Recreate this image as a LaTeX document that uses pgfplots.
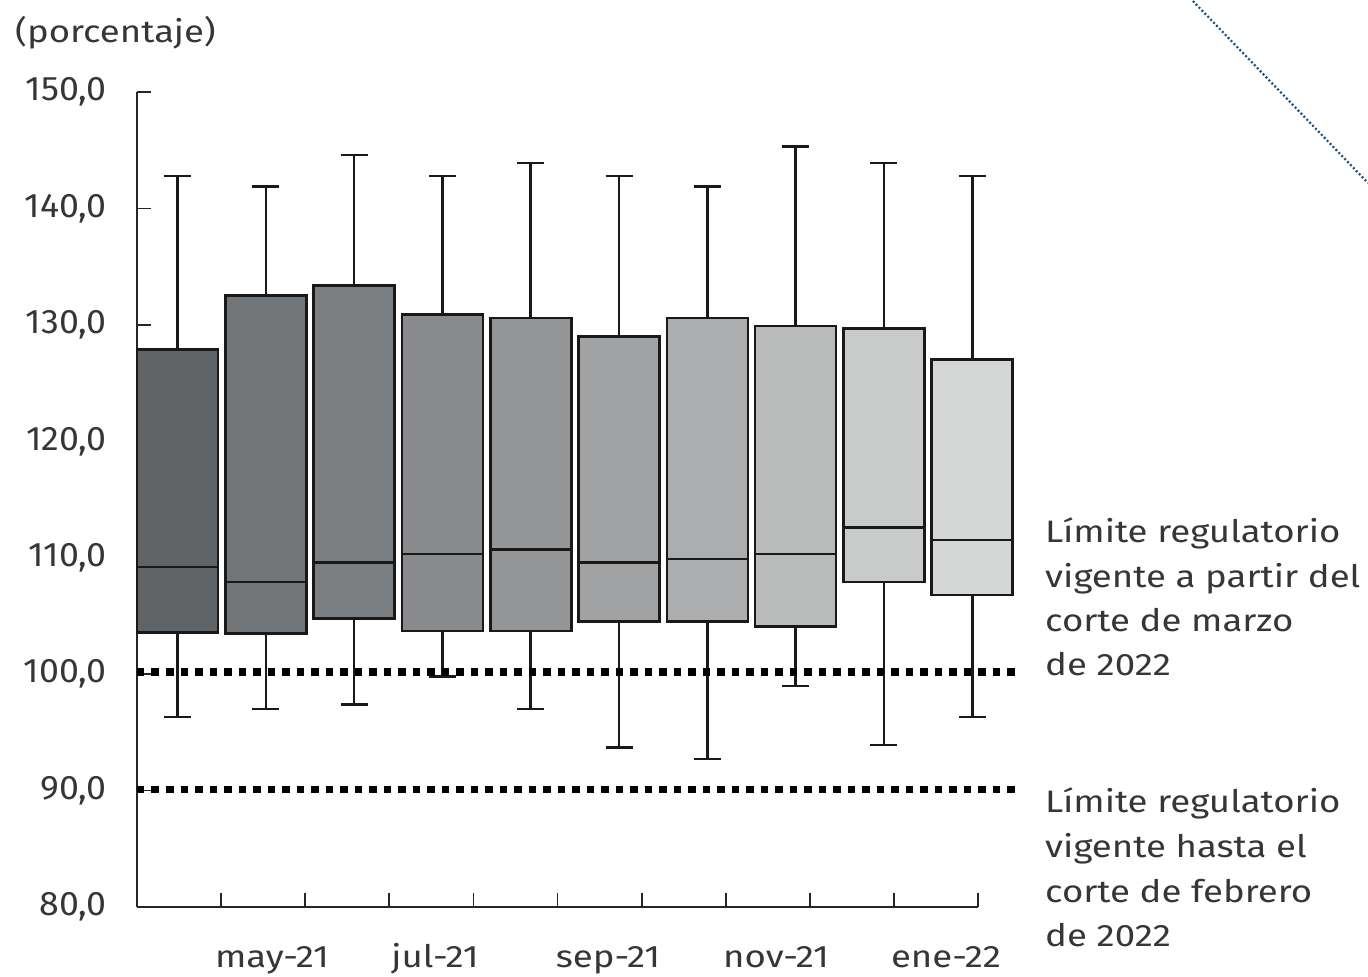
\documentclass[border=0pt]{standalone}
\usepackage{fontspec}
\setmainfont{Fira Sans}
\newfontfamily\widefont[FakeStretch=1.18]{Fira Sans}
\newfontfamily\tickfont[FakeStretch=1.05]{Fira Sans}
\usepackage{pgfplots}
\pgfplotsset{compat=1.18}
\definecolor{txt}{HTML}{363636}
\definecolor{cA}{HTML}{616466}
\definecolor{cB}{HTML}{727578}
\definecolor{cC}{HTML}{7C7F81}
\definecolor{cD}{HTML}{888A8C}
\definecolor{cE}{HTML}{939596}
\definecolor{cF}{HTML}{A0A2A3}
\definecolor{cG}{HTML}{ABADAE}
\definecolor{cH}{HTML}{B9BBBB}
\definecolor{cI}{HTML}{C9CBCA}
\definecolor{cJ}{HTML}{D5D6D6}
\definecolor{dblue}{HTML}{1B4F80}
% #1 position, #2 lower whisker, #3 lower quartile, #4 median, #5 upper quartile, #6 upper whisker, #7 fill
\newcommand{\bx}[7]{%
  \pgfmathsetmacro\xl{#1-0.4585}%
  \pgfmathsetmacro\xr{#1+0.4585}%
  \pgfmathsetmacro\cl{#1-0.153}%
  \pgfmathsetmacro\cr{#1+0.153}%
  \addplot[black!90, line width=2.5pt, mark=none] coordinates {(#1,#2) (#1,#3)};
  \addplot[black!90, line width=2.5pt, mark=none] coordinates {(#1,#5) (#1,#6)};
  \addplot[black!90, line width=2.5pt, mark=none] coordinates {(\cl,#2) (\cr,#2)};
  \addplot[black!90, line width=2.5pt, mark=none] coordinates {(\cl,#6) (\cr,#6)};
  \addplot[draw=black!90, line width=2.6pt, fill=#7, mark=none] coordinates {(\xl,#3) (\xr,#3) (\xr,#5) (\xl,#5)} -- cycle;
  \addplot[black!90, line width=2.5pt, mark=none] coordinates {(\xl,#4) (\xr,#4)};
}
\begin{document}
\begin{tikzpicture}
\useasboundingbox (0pt,0pt) rectangle (1368pt,977pt);
\begin{axis}[
  at={(137pt,70pt)}, anchor=south west, scale only axis,
  width=841pt, height=815pt,
  xmin=-0.4587, xmax=9.065, ymin=80, ymax=150,
  axis lines=left,
  axis line style={-, line width=1.8pt, black!85},
  clip=false,
  tick align=inside,
  major tick length=14pt,
  tick style={line width=1.8pt, black!85},
  xtick={0.494,1.446,2.399,3.351,4.303,5.256,6.208,7.160,8.113,9.065},
  xticklabels={},
  extra x ticks={1.070,2.916,4.875,6.778,8.703},
  extra x tick labels={may-21,jul-21,sep-21,nov-21,ene-22},
  extra x tick style={major tick length=0pt},
  ytick={80,90,...,150},
  yticklabel style={anchor=east, inner sep=0pt, xshift=-30pt, font=\tickfont\fontsize{34}{38}\selectfont},
  xticklabel style={anchor=base, inner sep=0pt, yshift=-60pt, font=\widefont\fontsize{31}{36}\selectfont},
  every tick label/.append style={text=txt},
  yticklabel={\pgfmathprintnumber[use comma, fixed, fixed zerofill, precision=1, assume math mode=true]{\tick}},
]
\bx{0}{96.3}{103.6}{109.2}{127.9}{142.8}{cA}
\bx{1}{97.0}{103.5}{107.9}{132.5}{141.9}{cB}
\bx{2}{97.4}{104.8}{109.6}{133.4}{144.6}{cC}
\bx{3}{99.8}{103.7}{110.3}{130.9}{142.8}{cD}
\bx{4}{97.0}{103.7}{110.7}{130.6}{143.9}{cE}
\bx{5}{93.7}{104.5}{109.6}{129.0}{142.8}{cF}
\bx{6}{92.7}{104.5}{109.9}{130.6}{141.9}{cG}
\bx{7}{99.0}{104.1}{110.3}{129.9}{145.3}{cH}
\bx{8}{93.9}{107.9}{112.6}{129.7}{143.9}{cI}
\bx{9}{96.3}{106.8}{111.5}{127.0}{142.8}{cJ}
\addplot[black, line width=7.5pt, dash pattern=on 7.5pt off 7pt, mark=none] coordinates {(-0.4587,100.2) (9.484,100.2)};
\addplot[black, line width=7.5pt, dash pattern=on 7.5pt off 7pt, mark=none] coordinates {(-0.4587,90.1) (9.484,90.1)};
\end{axis}
\begin{scope}[every node/.style={anchor=base west, inner sep=0pt, text=txt, font=\widefont\fontsize{31}{36}\selectfont}]
\node at (15pt,934pt) {(porcentaje)};
\node at (1045pt,434pt) {Límite regulatorio};
\node at (1045pt,389.7pt) {vigente a partir del};
\node at (1045pt,345.4pt) {corte de marzo};
\node at (1045pt,301pt) {de 2022};
\node at (1045pt,164pt) {Límite regulatorio};
\node at (1045pt,119.3pt) {vigente hasta el};
\node at (1045pt,74.6pt) {corte de febrero};
\node at (1045pt,30pt) {de 2022};
\end{scope}
\draw[dblue, line width=2.2pt, dash pattern=on 2pt off 2.2pt] (1190pt,979pt) -- (1368pt,794pt);
\end{tikzpicture}
\end{document}
